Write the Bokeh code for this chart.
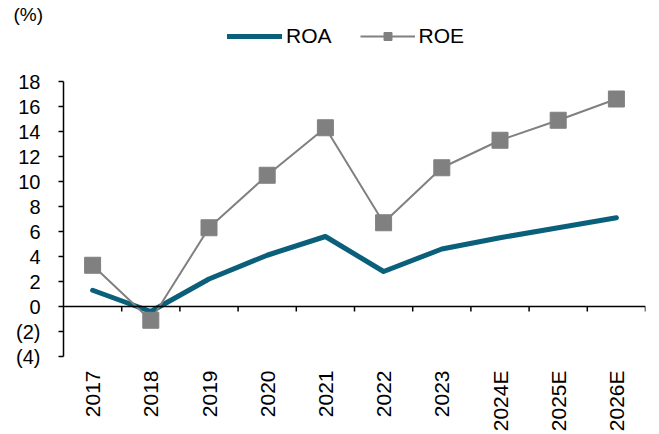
import numpy as np
from bokeh.plotting import figure
from bokeh.models import Range1d, FixedTicker, Legend, LegendItem, Span
from bokeh.embed import file_html
from bokeh.resources import INLINE

years = ["2017", "2018", "2019", "2020", "2021", "2022", "2023", "2024E", "2025E", "2026E"]
roa = [1.3, -0.4, 2.2, 4.1, 5.6, 2.8, 4.6, 5.5, 6.3, 7.1]
roe = [3.3, -1.1, 6.3, 10.5, 14.3, 6.7, 11.1, 13.3, 14.9, 16.6]
y_ticks = [-4, -2, 0, 2, 4, 6, 8, 10, 12, 14, 16, 18]
y_tick_labels = ["(4)", "(2)", "0", "2", "4", "6", "8", "10", "12", "14", "16", "18"]

FONT = "Liberation Sans"
ROA_COLOR = "#0a5f7a"
ROE_COLOR = "#808080"

n = len(years)
xs = [i + 0.5 for i in range(n)]

# frame: top at TOP_BORDER px (title border), bottom at 356px; 12.5 px per unit
TOP_BORDER = 24
y_top = y_ticks[-1] + (81 - TOP_BORDER) / 12.5

p = figure(width=659, height=434, output_backend="svg", toolbar_location=None,
           x_range=Range1d(0, n), y_range=Range1d(y_ticks[0], y_top),
           min_border_left=63, min_border_right=14, min_border_top=TOP_BORDER, min_border_bottom=78,
           title="(%)", title_location="above")
p.outline_line_color = None
p.xgrid.grid_line_color = None
p.ygrid.grid_line_color = None
p.background_fill_color = "white"

p.title.align = "left"
p.title.offset = -50
p.title.standoff = 0
p.title.text_font = FONT
p.title.text_font_size = "19px"
p.title.text_font_style = "normal"
p.title.text_color = "black"

# y axis
p.yaxis.ticker = FixedTicker(ticks=y_ticks)
p.yaxis.bounds = (y_ticks[0], y_ticks[-1])
p.yaxis.major_label_overrides = {t: l for t, l in zip(y_ticks, y_tick_labels)}
p.yaxis.minor_tick_line_color = None
p.yaxis.major_tick_in = 0
p.yaxis.major_tick_out = 5
p.yaxis.axis_line_width = 1.5
p.yaxis.major_tick_line_width = 1.5
p.yaxis.major_label_standoff = 18
p.yaxis.major_label_text_font = FONT
p.yaxis.major_label_text_font_size = "20px"
p.yaxis.major_label_text_color = "black"

# x axis (labels only)
p.xaxis.ticker = FixedTicker(ticks=xs)
p.xaxis.major_label_overrides = {x: y for x, y in zip(xs, years)}
p.xaxis.major_label_orientation = np.pi / 2
p.xaxis.axis_line_color = None
p.xaxis.major_tick_line_color = None
p.xaxis.major_tick_in = 0
p.xaxis.major_tick_out = 0
p.xaxis.minor_tick_line_color = None
p.xaxis.minor_tick_in = 0
p.xaxis.minor_tick_out = 0
p.xaxis.major_label_standoff = 14
p.xaxis.major_label_text_font = FONT
p.xaxis.major_label_text_font_size = "21px"
p.xaxis.major_label_text_color = "black"

# zero line with category boundary ticks
p.add_layout(Span(location=0, dimension="width", line_color="black", line_width=1.5))
bounds = list(range(1, n + 1))
p.segment(x0=bounds, y0=[0] * n, x1=bounds, y1=[-0.4] * n, line_color="black", line_width=1.5)

# series
r_roa = p.line(xs, roa, line_color=ROA_COLOR, line_width=5, line_cap="round", line_join="round")
r_roe_line = p.line(xs, roe, line_color=ROE_COLOR, line_width=2)
r_roe_pts = p.scatter(xs, roe, marker="square", size=16, fill_color=ROE_COLOR, line_color=ROE_COLOR)

# legend proxies
lg_roa = p.line([np.nan], [np.nan], line_color=ROA_COLOR, line_width=5, line_cap="round")
lg_roe_l = p.line([np.nan], [np.nan], line_color=ROE_COLOR, line_width=2)
lg_roe_m = p.scatter([np.nan], [np.nan], marker="square", size=11, fill_color=ROE_COLOR, line_color=ROE_COLOR)

legend = Legend(items=[LegendItem(label="ROA", renderers=[lg_roa]),
                       LegendItem(label="ROE", renderers=[lg_roe_l, lg_roe_m])],
                location=(164, 308), orientation="horizontal",
                glyph_width=55, glyph_height=20, label_standoff=4, spacing=28,
                padding=0, margin=0, border_line_color=None, background_fill_alpha=0,
                label_text_font=FONT, label_text_font_size="21px", label_text_color="black")
p.add_layout(legend, "center")

open("out.html", "w").write(file_html(p, INLINE))
